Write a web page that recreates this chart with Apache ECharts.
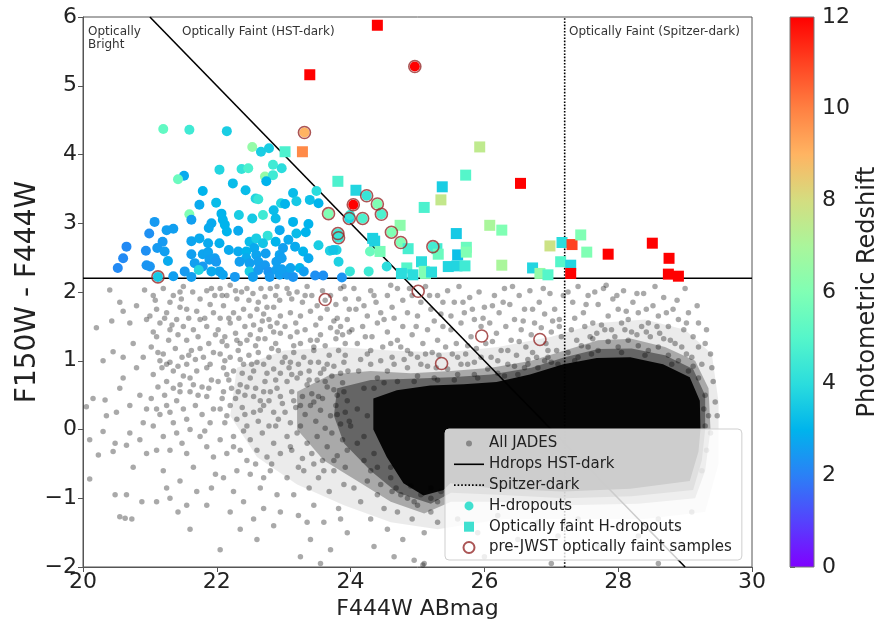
<!DOCTYPE html>
<html>
<head>
<meta charset="utf-8">
<title>F150W - F444W vs F444W</title>
<script src="https://cdn.jsdelivr.net/npm/echarts@6/dist/echarts.min.js"></script>
<style>
  html, body { margin: 0; padding: 0; background: #fff; }
  #chart { width: 881px; height: 627px; }
</style>
</head>
<body>
<div id="chart"></div>
<script>
// ---- All JADES catalogue: individual sources [F444W, F150W-F444W] ----
const allJades = [
  [20.05,0.33],[20.1,-0.15],[20.2,1.48],[20.4,2.03],[20.43,1.58],[20.3,1.0],[20.45,1.13],[20.35,0.2],[20.3,-0.03],[20.48,-0.2],
  [20.45,-0.32],[20.65,-0.23],[20.55,-1.27],[20.63,-1.29],[20.48,-0.95],[20.73,-1.3],[20.15,0.45],[20.33,0.43],[20.23,-0.37],[20.1,-0.72],
  [20.6,1.72],[20.55,1.85],[20.7,1.55],[20.75,1.25],[20.6,1.05],[20.8,0.9],[20.55,0.6],[20.7,0.35],[20.85,0.5],[20.9,0.1],
  [20.7,-0.05],[20.95,-0.35],[20.85,-0.15],[20.6,0.75],[20.9,1.05],[20.95,1.6],[20.92,2.03],[20.8,1.8],[20.5,0.25],[20.95,0.3],
  [20.75,-0.55],[20.88,-1.05],[20.65,-0.95],
  [21.05,1.95],[21.2,2.05],[21.3,1.85],[21.45,2.0],[21.5,2.08],[21.64,2.0],[21.75,1.9],[21.85,2.02],[21.92,2.05],[21.1,1.75],[21.35,1.95],
  [21.0,1.65],[21.15,1.55],[21.25,1.7],[21.4,1.6],[21.55,1.75],[21.65,1.45],[21.75,1.6],[21.85,1.5],[21.95,1.7],[21.3,1.45],[21.5,1.5],
  [21.05,1.42],[21.45,1.78],[21.9,1.82],
  [21.02,1.2],[21.1,1.35],[21.2,1.1],[21.28,1.3],[21.38,1.18],[21.48,1.05],[21.55,1.3],[21.62,1.15],[21.72,1.35],[21.8,1.05],[21.88,1.25],
  [21.95,1.12],[21.15,1.0],[21.42,1.38],[21.68,1.02],[21.98,1.38],
  [21.05,0.8],[21.18,0.9],[21.25,0.7],[21.35,0.85],[21.45,0.65],[21.55,0.95],[21.6,0.75],[21.7,0.85],[21.78,0.62],[21.85,0.9],[21.92,0.72],
  [21.3,0.98],[21.12,0.62],[21.5,0.78],
  [21.02,0.45],[21.1,0.3],[21.22,0.5],[21.3,0.25],[21.4,0.42],[21.5,0.3],[21.6,0.55],[21.68,0.35],[21.78,0.22],[21.85,0.48],[21.95,0.3],
  [21.45,0.55],[21.15,0.22],
  [21.05,0.05],[21.2,-0.1],[21.35,0.1],[21.48,-0.2],[21.6,0.0],[21.75,-0.1],[21.9,0.1],[21.3,-0.3],[21.55,-0.35],[21.85,-0.25],[21.95,-0.4],[21.1,-0.3],
  [21.2,-0.6],[21.45,-0.75],[21.3,-1.0],[21.55,-1.1],[21.42,-1.2],[21.7,-0.9],[21.85,-1.1],[21.6,-1.45],[21.1,-1.05],[21.98,-0.65],
  [21.08,1.88],[21.22,1.62],[21.33,1.52],[21.47,1.9],[21.58,1.62],[21.7,1.72],[21.82,1.62],[21.97,1.95],[21.12,1.12],[21.25,0.95],
  [21.42,0.92],[21.58,1.08],[21.75,1.18],[21.9,0.95],[21.35,0.6],[21.65,0.65],[21.88,0.6],[21.25,0.35],[21.55,0.15],[21.72,0.5],
  [21.4,-0.05],[21.82,-0.02],[21.65,-0.55],[21.25,-0.85],[21.92,-0.85],
  [22.05,2.05],[22.15,1.95],[22.2,2.1],[22.3,1.9],[22.37,2.0],[22.45,2.05],[22.54,1.98],[22.62,1.85],[22.72,1.93],[22.8,2.05],[22.88,1.95],
  [22.94,1.88],[22.1,1.8],[22.25,1.7],[22.4,1.75],[22.5,1.65],[22.6,1.75],[22.7,1.68],[22.85,1.78],[22.95,1.65],[22.05,1.62],[22.33,1.62],[22.78,1.6],
  [22.02,1.45],[22.12,1.35],[22.2,1.55],[22.28,1.4],[22.35,1.25],[22.42,1.5],[22.5,1.38],[22.58,1.22],[22.65,1.45],[22.72,1.32],[22.8,1.5],
  [22.88,1.25],[22.95,1.4],[22.15,1.22],[22.45,1.3],[22.68,1.58],[22.9,1.55],
  [22.05,1.1],[22.1,0.9],[22.2,1.05],[22.25,0.85],[22.32,1.15],[22.4,0.95],[22.48,1.08],[22.55,0.85],[22.62,1.12],[22.7,0.95],[22.78,1.05],
  [22.85,0.88],[22.92,1.15],[22.98,0.98],[22.15,0.8],[22.38,0.82],[22.6,0.98],[22.82,1.18],
  [22.02,0.7],[22.1,0.55],[22.18,0.72],[22.28,0.45],[22.35,0.65],[22.42,0.5],[22.5,0.75],[22.58,0.6],[22.65,0.42],[22.72,0.7],[22.8,0.55],
  [22.88,0.72],[22.95,0.48],[22.22,0.6],[22.45,0.62],[22.7,0.55],[22.9,0.6],
  [22.05,0.3],[22.12,0.1],[22.2,0.35],[22.3,0.15],[22.38,0.32],[22.45,0.05],[22.55,0.25],[22.62,0.12],[22.7,0.35],[22.78,0.05],[22.85,0.25],
  [22.92,0.15],[22.98,0.38],
  [22.05,-0.15],[22.15,-0.35],[22.25,-0.1],[22.35,-0.3],[22.45,-0.45],[22.5,-0.15],[22.6,-0.3],[22.68,-0.05],[22.75,-0.4],[22.85,-0.2],
  [22.95,-0.35],[22.4,-0.02],
  [22.1,-0.7],[22.25,-0.9],[22.2,-1.2],[22.4,-1.05],[22.5,-0.65],[22.55,-1.3],[22.65,-0.85],[22.7,-1.15],[22.8,-0.6],[22.85,-1.4],[22.9,-0.95],
  [22.95,-1.2],[22.35,-1.45],[22.05,-1.75],[22.6,-1.6],
  [22.08,1.95],[22.28,2.02],[22.48,1.88],[22.66,2.05],[22.9,2.08],[22.18,1.62],[22.55,1.52],[22.75,1.78],[22.08,1.28],[22.3,1.3],
  [22.62,1.32],[22.85,1.42],[22.12,1.0],[22.35,1.02],[22.52,0.95],[22.75,0.82],[22.95,0.82],[22.08,0.45],[22.32,0.55],[22.55,0.48],
  [22.78,0.42],[22.15,0.2],[22.42,0.22],[22.65,0.28],[22.88,0.05],[22.25,-0.25],[22.58,-0.5],[22.82,-0.5],[22.3,-0.6],[22.7,-0.7],
  [23.05,2.05],[23.12,1.9],[23.2,2.0],[23.28,1.85],[23.35,2.08],[23.42,1.95],[23.5,1.8],[23.58,2.02],[23.7,1.95],[23.78,1.82],[23.85,2.05],
  [23.92,1.9],[23.98,1.75],[23.1,1.7],[23.25,1.65],[23.4,1.72],[23.55,1.62],[23.65,1.75],[23.8,1.62],[23.95,1.6],
  [23.02,1.5],[23.1,1.35],[23.18,1.55],[23.25,1.25],[23.32,1.45],[23.4,1.3],[23.48,1.52],[23.55,1.38],[23.62,1.22],[23.7,1.48],[23.78,1.32],
  [23.85,1.5],[23.92,1.25],[23.98,1.42],[23.15,1.22],[23.45,1.2],[23.75,1.58],[23.88,1.38],
  [23.02,1.05],[23.08,0.9],[23.15,1.12],[23.22,0.95],[23.3,1.05],[23.38,0.85],[23.45,1.15],[23.52,0.98],[23.6,0.88],[23.68,1.08],[23.75,0.92],
  [23.82,1.15],[23.9,0.98],[23.96,0.85],[23.25,0.82],[23.55,0.82],[23.85,0.82],
  [23.05,0.7],[23.12,0.55],[23.2,0.75],[23.28,0.48],[23.35,0.65],[23.42,0.52],[23.5,0.72],[23.58,0.45],[23.65,0.62],[23.72,0.78],[23.8,0.5],
  [23.88,0.68],[23.95,0.42],[23.15,0.42],[23.45,0.4],[23.75,0.58],
  [23.02,0.25],[23.1,0.1],[23.18,0.32],[23.25,0.05],[23.32,0.22],[23.4,0.35],[23.48,0.12],[23.55,0.28],[23.62,0.02],[23.7,0.2],[23.78,0.35],
  [23.85,0.08],[23.92,0.25],[23.98,0.12],
  [23.05,-0.1],[23.12,-0.3],[23.2,-0.05],[23.28,-0.42],[23.35,-0.2],[23.42,-0.35],[23.5,-0.1],[23.58,-0.45],[23.65,-0.25],[23.72,-0.05],
  [23.8,-0.38],[23.88,-0.15],[23.95,-0.3],
  [23.05,-0.7],[23.15,-0.95],[23.22,-1.25],[23.3,-0.6],[23.38,-0.85],[23.45,-1.1],[23.52,-0.7],[23.6,-1.35],[23.68,-0.9],[23.75,-0.6],
  [23.82,-1.15],[23.9,-0.8],[23.95,-1.5],[23.4,-1.6],[23.7,-1.75],[23.25,-1.85],[23.55,-1.95],
  [23.08,1.98],[23.32,1.95],[23.62,1.88],[23.9,2.08],[23.2,1.42],[23.5,1.3],[23.8,1.42],[23.1,0.98],[23.4,0.98],[23.65,0.95],
  [23.92,1.08],[23.12,0.8],[23.38,0.72],[23.62,0.7],[23.9,0.55],[23.25,0.35],[23.52,0.48],[23.8,0.22],[23.1,-0.25],[23.45,-0.5],
  [23.75,-0.45],[23.22,-0.55],[23.6,-0.6],[23.92,-0.55],[23.35,-1.35],[23.85,-1.3],
  [24.05,2.05],[24.12,1.9],[24.2,1.8],[24.3,2.02],[24.38,1.85],[24.45,1.7],[24.55,1.95],[24.62,1.78],[24.7,2.05],[24.78,1.88],[24.85,1.7],
  [24.92,1.95],[25.05,1.85],[25.12,2.08],[25.2,1.75],[25.3,1.95],[24.25,1.65],[24.65,1.62],[25.0,1.65],[25.35,1.68],
  [24.02,1.45],[24.1,1.25],[24.18,1.5],[24.25,1.1],[24.32,1.35],[24.4,1.55],[24.48,1.2],[24.55,1.42],[24.62,1.05],[24.7,1.3],[24.78,1.5],
  [24.85,1.15],[24.92,1.38],[25.0,1.05],[25.08,1.25],[25.15,1.45],[25.22,1.12],[25.3,1.3],[25.38,1.5],[24.15,1.02],[24.45,1.0],[24.8,1.02],
  [24.08,1.75],[24.35,1.95],[24.6,2.1],[24.88,2.05],[25.18,1.95],[25.38,1.85],[24.22,1.35],[24.5,1.6],[24.75,1.2],[24.98,1.5],
  [25.25,1.58],[24.3,1.15],[24.6,1.25],[24.9,1.1],[25.12,1.1],[25.32,1.08],[24.12,0.85],[24.3,0.95],[24.65,0.95],[25.05,0.95],[25.28,0.9],
  [24.05,-0.85],[24.15,-1.05],[24.25,-0.75],[24.3,-1.3],[24.4,-0.95],[24.5,-1.15],[24.55,-1.45],[24.62,-0.9],[24.7,-1.2],[24.78,-1.6],
  [24.85,-1.0],[24.92,-1.3],[25.0,-1.1],[25.1,-1.5],[25.2,-1.2],[25.3,-1.35],[24.35,-1.7],[24.65,-1.85],[24.95,-1.9],[25.08,-1.97],
  [25.45,2.02],[25.55,1.85],[25.62,2.08],[25.7,1.7],[25.78,1.92],[25.85,1.6],[25.92,2.0],[26.0,1.78],[26.08,1.55],[26.15,1.95],[26.22,1.7],
  [26.3,2.05],[26.38,1.82],[26.45,1.6],[26.52,1.95],[26.6,1.75],[26.68,2.02],[26.75,1.55],[26.82,1.85],[26.9,1.68],[26.98,1.98],[27.05,1.75],
  [27.12,1.6],[25.5,1.45],[25.58,1.25],[25.65,1.55],[25.72,1.1],[25.8,1.35],[25.88,1.18],[25.95,1.5],[26.02,1.25],[26.1,1.05],[26.18,1.4],
  [26.25,1.15],[26.32,1.5],[26.4,1.3],[26.48,1.08],[26.55,1.45],[26.62,1.2],[26.7,1.38],[26.78,1.05],[26.85,1.48],[26.92,1.25],[27.0,1.42],
  [27.08,1.15],[27.15,1.35],[25.42,1.2],[25.6,1.05],[26.2,1.0],[26.65,0.95],
  [25.5,1.65],[25.68,1.85],[25.82,1.75],[25.98,1.62],[26.12,1.8],[26.28,1.85],[26.42,2.08],[26.58,1.58],[26.72,1.75],[26.88,2.05],
  [27.02,1.58],[27.18,1.95],[25.52,1.1],[25.75,1.22],[25.95,1.05],[26.12,1.28],[26.35,1.15],[26.52,1.28],[26.72,1.12],[26.95,1.15],
  [27.12,1.5],[25.65,0.95],[25.85,0.98],[26.45,0.92],[26.9,1.0],
  [27.25,2.0],[27.32,1.85],[27.4,2.08],[27.48,1.7],[27.55,1.95],[27.62,1.55],[27.7,1.82],[27.78,2.05],[27.85,1.65],[27.92,1.9],[28.0,1.75],
  [28.08,2.02],[28.15,1.6],[28.22,1.85],[28.3,1.7],[28.38,1.98],[28.45,1.55],[28.52,1.8],[28.6,1.65],[28.68,1.92],[28.75,1.5],[28.82,1.75],
  [28.9,1.6],[28.98,1.45],[29.05,1.7],[29.12,1.35],[29.2,1.55],[29.3,1.25],[29.38,1.1],[27.3,1.45],[27.38,1.3],[27.5,1.5],[27.58,1.35],
  [27.68,1.4],[27.75,1.52],[27.9,1.45],[28.05,1.55],[28.2,1.42],[28.35,1.5],[28.48,1.35],[28.62,1.4],[28.78,1.3],[28.95,1.2],[29.1,1.05],
  [29.25,0.95],[29.42,0.7],[29.45,0.4],[27.82,2.1],[28.55,2.08],[29.0,2.05],
  [27.35,1.62],[27.52,1.82],[27.65,2.0],[27.8,1.45],[27.98,1.95],[28.12,1.72],[28.28,1.98],[28.42,1.75],[28.58,1.5],[28.72,1.7],
  [28.88,1.88],[29.02,1.55],[29.18,1.8],[29.32,1.45],[27.45,1.22],[27.62,1.32],[27.95,1.35],[28.1,1.45],[28.28,1.38],[28.42,1.42],
  [28.68,1.32],[28.85,1.25],[29.02,1.1],[29.2,1.2],[29.4,0.9],[29.48,0.2],
  [25.6,-1.3],[25.9,-1.5],[26.2,-1.25],[26.5,-1.6],[26.8,-1.35],[27.1,-1.55],[27.4,-1.3],[27.7,-1.7],[28.0,-1.4],[28.3,-1.55],[28.6,-1.3],
  [28.9,-1.45],[29.1,-1.2],[26.0,-1.85],[27.0,-1.95],[28.6,-1.95],[25.1,-1.95],
  [24.4,0.75],[24.55,0.85],[24.7,0.7],[24.85,0.9],[25.0,0.78],[25.15,0.92],[25.3,0.72],[25.45,0.88],[25.6,0.8],[25.75,0.95],[25.9,0.75],
  [26.05,0.88],[26.2,0.82],[26.35,0.95],[26.5,0.8],[26.65,1.02],[26.8,0.9],[26.95,1.05],[27.1,0.95],[27.25,1.12],[27.4,1.05],[27.55,1.2],
  [27.7,1.15],[27.85,1.28],[28.0,1.2],[28.15,1.3],[28.3,1.22],[28.45,1.15],[28.6,1.2],[28.75,1.08],[28.9,1.0],[29.05,0.85],[29.2,0.75],
  [29.3,0.5],[29.35,0.2],[29.38,-0.05],[29.3,0.05],
  [24.2,0.6],[24.1,0.3],[24.0,0.05],[24.1,-0.2],[24.2,-0.45],[24.3,-0.6],[24.45,-0.8],[24.6,-0.7],[24.75,-0.95],[24.9,-0.82],[25.05,-0.95],
  [25.2,-0.85],[25.35,-0.9],
  [24.35,0.6],[24.5,0.68],[24.95,0.7],[25.25,0.75],[25.55,0.72],[25.85,0.8],[26.3,0.78],[26.6,0.9],[27.0,0.98],[27.35,1.0],[27.6,1.1],
  [28.05,1.12],[28.4,1.08],[28.8,0.95],[29.12,0.92],[29.28,0.3],[29.32,-0.3],[29.25,-0.6],[24.25,0.2],[24.2,-0.1],[24.35,-0.35],
  [24.4,-0.55],[24.6,-0.55],[24.68,-0.85],[24.95,-1.05],[25.2,-1.0],[25.3,-1.05]
];

// ---- Where the catalogue is too crowded to resolve single sources: density contours ----
const jadesSparse = [
  [22.3,0.9],[23.0,1.15],[23.8,1.2],[24.6,1.15],[25.4,1.12],[26.2,1.2],[27.0,1.35],[27.7,1.55],[28.4,1.6],[29.0,1.45],[29.4,1.1],
  [29.5,0.4],[29.5,-0.5],[29.3,-1.2],[28.4,-1.3],[27.3,-1.3],[26.3,-1.3],[25.3,-1.45],[24.6,-1.35],[23.9,-1.1],[23.2,-0.8],[22.6,-0.4],[22.2,0.2]
];
const jadesMedium = [
  [23.2,0.55],[23.7,0.8],[24.3,0.85],[24.9,0.82],[25.5,0.85],[26.1,0.9],[26.7,1.0],[27.2,1.15],[27.7,1.3],[28.2,1.32],[28.7,1.2],
  [29.15,1.0],[29.35,0.6],[29.38,0.0],[29.3,-0.6],[29.15,-1.0],[28.3,-1.08],[27.2,-1.1],[26.2,-1.05],[25.5,-1.05],[25.1,-1.22],
  [24.6,-1.05],[24.1,-0.75],[23.6,-0.45],[23.2,0.0]
];
const jadesCrowded = [
  [23.8,0.6],[24.3,0.72],[24.9,0.74],[25.5,0.76],[26.1,0.8],[26.7,0.9],[27.2,1.05],[27.7,1.17],[28.2,1.18],[28.7,1.08],[29.12,0.88],
  [29.3,0.5],[29.3,0.0],[29.25,-0.45],[29.12,-0.88],[28.2,-0.97],[27.2,-1.0],[26.2,-0.95],[25.5,-0.92],[25.2,-1.08],[24.7,-0.92],
  [24.3,-0.6],[23.9,-0.2],[23.75,0.2]
];
const jadesDense = [
  [24.34,0.45],[24.69,0.57],[25.19,0.64],[25.69,0.66],[26.18,0.69],[26.68,0.8],[27.18,0.95],[27.68,1.04],[28.18,1.05],[28.67,0.95],
  [29.07,0.76],[29.22,0.42],[29.23,0.0],[29.2,-0.32],[29.07,-0.75],[28.18,-0.86],[27.18,-0.9],[26.18,-0.86],[25.49,-0.78],[25.39,-0.88],
  [25.09,-0.96],[24.79,-0.78],[24.54,-0.4],[24.34,0.0]
];

// ---- H-dropouts [F444W, colour, photo-z] ----
const hDropouts = [
  [21.20,4.37,5.3],[21.59,4.36,4.5],[22.15,4.34,3.6],[22.53,4.11,6.5],[22.66,4.04,3.6],[22.78,4.09,3.6],
  [22.04,3.78,3.8],[22.37,3.79,4.2],[22.47,3.80,4.8],[21.51,3.69,2.8],[21.42,3.64,5.5],[22.72,3.68,6.5],[22.84,3.70,4.5],
  [22.74,3.61,3.0],[22.24,3.58,3.2],[22.43,3.48,3.2],[21.79,3.47,3.0],[21.74,3.27,2.8],[21.99,3.30,3.2],[22.58,3.36,3.8],
  [22.62,3.35,4.3],[22.85,3.19,3.2],[22.96,3.29,3.8],[22.07,3.14,3.0],[22.33,3.12,3.6],[22.53,3.07,3.5],[22.69,3.12,4.5],
  [22.88,3.07,3.2],[21.07,3.02,2.5],[21.59,3.13,6.0],[21.62,3.05,2.6],[21.92,3.00,2.8],[22.09,3.05,3.0],[22.12,2.98,3.0],
  [22.15,2.88,3.0],[21.88,2.93,2.8],[22.32,2.89,2.8],[21.25,2.90,2.6],[21.35,2.92,2.6],[20.99,2.85,2.3],[21.19,2.73,2.5],
  [20.65,2.66,2.2],[20.94,2.60,2.3],[21.11,2.64,2.5],[21.22,2.59,2.6],[21.27,2.45,2.8],[20.60,2.49,2.2],[20.52,2.35,2.2],
  [20.95,2.39,2.4],[21.00,2.37,2.4],[21.62,2.74,2.7],[21.74,2.78,2.8],[21.87,2.71,2.8],[22.04,2.71,2.9],[22.18,2.61,2.8],
  [21.62,2.55,2.6],[21.79,2.55,2.7],[21.87,2.58,2.7],[21.89,2.47,2.6],[21.97,2.49,2.6],[21.99,2.44,2.5],[21.67,2.42,2.6],
  [21.79,2.37,2.5],[21.73,2.32,3.8],[21.52,2.30,2.5],[21.62,2.22,2.6],[21.35,2.23,2.6],[21.12,2.22,3.5],[22.04,2.30,2.7],
  [22.09,2.25,2.7],[22.32,2.59,2.8],[22.44,2.59,3.0],[22.49,2.73,3.2],[22.59,2.78,3.6],[22.76,2.82,4.2],[22.88,2.73,3.0],
  [22.56,2.64,2.8],[22.69,2.71,3.4],[22.73,2.56,2.6],[22.59,2.54,2.7],[22.44,2.49,2.8],[22.34,2.44,2.6],[22.49,2.42,2.6],
  [22.62,2.44,2.6],[22.72,2.39,2.5],[22.89,2.44,2.6],[22.94,2.54,2.7],[22.49,2.30,3.6],[22.62,2.32,2.5],[22.77,2.30,2.4],
  [22.89,2.32,2.6],[22.54,2.22,2.6],[22.79,2.22,2.5],[22.94,2.25,2.6],[22.27,2.22,2.5],[21.92,2.30,2.8],
  [22.84,3.85,4.5],[22.97,3.80,4.0],[23.49,3.47,4.0],[23.14,3.44,3.2],[23.02,3.28,3.0],[23.19,3.32,3.5],[23.39,3.34,3.3],
  [23.52,3.29,3.0],[23.14,3.02,3.0],[23.37,2.99,3.0],[22.94,2.90,2.8],[23.19,2.85,3.2],[23.33,2.87,3.0],[23.07,2.76,2.8],
  [23.52,2.68,3.6],[23.17,2.66,2.8],[22.99,2.64,2.6],[23.29,2.59,3.0],[23.69,2.60,3.7],[23.79,2.61,3.7],[22.97,2.49,2.6],
  [23.37,2.49,2.8],[23.82,2.44,3.7],[23.24,2.35,3.0],[23.99,2.30,4.3],[24.27,2.30,4.5],[23.47,2.24,2.3],[23.59,2.24,2.3],
  [23.87,2.21,2.4],[24.54,2.37,4.0],[24.29,2.59,5.5],[23.30,2.30,2.6],[23.05,2.25,2.5],[23.14,2.22,2.4],[22.97,2.33,2.6],
  [23.10,2.35,2.7],[23.74,2.61,3.4],
  [23.31,4.32,9.0],[24.96,5.28,12],[24.04,3.27,12],[24.24,3.40,4.3],[24.40,3.28,6.0],[24.46,3.13,4.8],[23.67,3.14,6.0],
  [23.98,3.07,3.8],[23.99,3.12,4.3],[24.18,3.07,4.8],[23.81,2.85,4.5],[23.82,2.79,4.3],[24.61,2.87,6.0],[24.75,2.72,6.0],
  [25.23,2.66,4.6]
];

// ---- Optically faint H-dropouts [F444W, colour, photo-z] ----
const faintHDropouts = [
  [24.40,5.88,12],[23.39,5.16,12],[23.28,4.04,9.8],[23.02,4.04,4.8],[23.81,3.61,4.8],[24.08,3.48,3.8],[25.10,3.23,4.8],
  [25.37,3.53,3.6],[25.35,3.34,7.6],[25.72,3.70,5.0],[25.93,4.11,7.5],[26.54,3.58,12],[24.33,2.78,3.7],[24.36,2.74,3.7],
  [24.44,2.59,5.8],[24.74,2.97,6.3],[24.86,2.63,4.7],[24.84,2.35,5.0],[25.06,2.44,4.0],[25.29,2.63,4.6],[25.31,2.55,5.5],
  [25.58,2.85,3.5],[25.60,2.54,3.3],[25.46,2.37,3.8],[25.59,2.38,3.8],[25.71,2.38,4.5],[25.10,2.30,6.0],[24.76,2.27,4.0],
  [24.93,2.25,4.0],[25.12,2.27,6.0],[25.21,2.29,4.0],[26.08,2.97,7.0],[26.26,2.90,6.0],[25.73,2.65,5.5],[25.73,2.58,6.0],
  [26.26,2.39,7.0],[26.72,2.35,3.8],[26.83,2.27,6.5],[26.95,2.25,5.0],[26.98,2.67,7.8],[27.16,2.72,4.0],[27.31,2.69,11],
  [27.44,2.83,6.0],[27.53,2.58,6.0],[27.85,2.55,12],[28.51,2.71,12],[28.76,2.49,12],[27.14,2.44,5.0],[27.29,2.39,3.8],
  [27.29,2.27,12],[28.75,2.26,12],[28.90,2.23,12]
];

// ---- pre-JWST optically faint samples [F444W, colour] ----
const preJwst = [
  [21.12,2.22],[23.31,4.32],[24.96,5.28],[24.04,3.27],[24.24,3.40],[24.40,3.28],[24.46,3.13],[23.67,3.14],[23.98,3.07],
  [24.18,3.07],[23.81,2.85],[23.82,2.79],[24.61,2.87],[24.75,2.72],[25.23,2.66],[23.62,1.89],[25.01,2.01],[25.96,1.36],
  [26.83,1.31],[25.36,0.96]
];

// ---- Selection boundaries ----
const hstDarkCut = [[21, 6], [29, -2]];
const spitzerDarkCut = [[27.2, -2], [27.2, 6]];
const colourCut = [[20, 2.2], [30, 2.2]];

// ---- Colour scale (photometric redshift) ----
const zMin = 0, zMax = 12;
const rainbow = ['#8000ff','#5542fd','#2b80f6','#00b4ec','#2bdddd','#55f6ca','#80ffb4',
                 '#aaf69b','#d4dd80','#ffb462','#ff8042','#ff4221','#ff0000'];

const FONT = 'DejaVu Sans';
const minus = v => String(v).replace('-', '\u2212');

// legend glyphs, drawn in a 30 x 11 box
const ICON_LINE = 'path://M0,4.7H30V6.3H0Z';
const ICON_DOTS = 'path://M0,4.7H1.6V6.3H0Z M3.6,4.7H5.2V6.3H3.6Z M7.2,4.7H8.8V6.3H7.2Z M10.8,4.7H12.4V6.3H10.8Z ' +
                  'M14.4,4.7H16V6.3H14.4Z M18,4.7H19.6V6.3H18Z M21.6,4.7H23.2V6.3H21.6Z M25.2,4.7H26.8V6.3H25.2Z M28.4,4.7H30V6.3H28.4Z';
const ICON_DOT = 'path://M0,0M30,11M15,2.5A3,3,0,1,1,15,8.5A3,3,0,1,1,15,2.5Z';
const ICON_DISC = 'path://M0,0M30,11M15,1A4.5,4.5,0,1,1,15,10A4.5,4.5,0,1,1,15,1Z';
const ICON_SQUARE = 'path://M0,0M30,11M10,0.5H20V10.5H10Z';

function contour(name, verts, fill) {
  return {
    type: 'custom', name: name, coordinateSystem: 'cartesian2d', silent: true, clip: true, z: 1,
    data: verts,
    renderItem: function (params, api) {
      if (params.dataIndex !== 0) return null;
      return {
        type: 'polygon',
        shape: { points: verts.map(v => api.coord(v)) },
        style: { fill: fill }
      };
    }
  };
}

const chart = echarts.init(document.getElementById('chart'), null, { renderer: 'canvas' });

const option = {
  animation: false,
  backgroundColor: '#fff',
  textStyle: { fontFamily: FONT },
  grid: [
    { left: 83, right: 129, top: 17, bottom: 60, show: true, borderColor: '#555', borderWidth: 1 },
    { left: 790, width: 32, top: 17, height: 550 }
  ],
  xAxis: [
    {
      gridIndex: 0, type: 'value', min: 20, max: 30, interval: 2,
      name: 'F444W ABmag', nameLocation: 'middle', nameGap: 31, nameMoveOverlap: false,
      nameTextStyle: { fontSize: 22, color: '#222', fontFamily: FONT },
      axisLine: { onZero: false, lineStyle: { color: '#555' } },
      axisTick: { length: 5, lineStyle: { color: '#555' } },
      axisLabel: { fontSize: 22, color: '#222', margin: 4, fontFamily: FONT },
      splitLine: { show: false }
    },
    { gridIndex: 1, type: 'value', min: 0, max: 1, show: false }
  ],
  yAxis: [
    {
      gridIndex: 0, type: 'value', min: -2, max: 6, interval: 1,
      name: 'F150W - F444W', nameLocation: 'middle', nameGap: 41, nameMoveOverlap: false,
      nameTextStyle: { fontSize: 28, color: '#222', fontFamily: FONT },
      axisLine: { onZero: false, lineStyle: { color: '#555' } },
      axisTick: { length: 5, lineStyle: { color: '#555' } },
      axisLabel: { fontSize: 22, color: '#222', margin: 6, formatter: minus, fontFamily: FONT },
      splitLine: { show: false }
    },
    {
      gridIndex: 1, type: 'value', min: zMin, max: zMax, interval: 2, position: 'right',
      name: 'Photometric Redshift', nameLocation: 'middle', nameGap: 42, nameRotate: 90, nameMoveOverlap: false,
      nameTextStyle: { fontSize: 24, color: '#222', fontFamily: FONT },
      axisLine: { show: false },
      axisTick: { show: true, length: 5, lineStyle: { color: '#555' } },
      axisLabel: { fontSize: 22, color: '#222', margin: 8, fontFamily: FONT },
      splitLine: { show: false }
    }
  ],
  visualMap: {
    type: 'continuous', show: false, min: zMin, max: zMax, dimension: 2,
    seriesIndex: [8, 9], inRange: { color: rainbow }
  },
  legend: {
    orient: 'vertical', left: 445, top: 429, padding: [7, 10, 5, 9],
    itemWidth: 30, itemHeight: 11, itemGap: 5.8,
    backgroundColor: 'rgba(255,255,255,0.8)', borderColor: '#cfcfcf', borderWidth: 1, borderRadius: 4,
    textStyle: { fontSize: 15, color: '#222', fontFamily: FONT },
    data: [
      { name: 'All JADES', icon: ICON_DOT },
      { name: 'Hdrops HST-dark', icon: ICON_LINE, itemStyle: { color: '#000' } },
      { name: 'Spitzer-dark', icon: ICON_DOTS, itemStyle: { color: '#000' } },
      { name: 'H-dropouts', icon: ICON_DISC, itemStyle: { color: '#40e0d0' } },
      { name: 'Optically faint H-dropouts', icon: ICON_SQUARE, itemStyle: { color: '#40e0d0' } },
      { name: 'pre-JWST optically faint samples', icon: 'circle' }
    ]
  },
  graphic: [
    { type: 'text', left: 88, top: 25, z: 10, style: { text: 'Optically\nBright', font: '12px "DejaVu Sans"', fill: '#333', lineHeight: 13 } },
    { type: 'text', left: 182, top: 26, z: 10, style: { text: 'Optically Faint (HST-dark)', font: '12px "DejaVu Sans"', fill: '#333' } },
    { type: 'text', left: 569, top: 26, z: 10, style: { text: 'Optically Faint (Spitzer-dark)', font: '12px "DejaVu Sans"', fill: '#333' } }
  ],
  series: [
    contour('jades-sparse', jadesSparse, 'rgba(0,0,0,0.08)'),
    contour('jades-medium', jadesMedium, 'rgba(0,0,0,0.28)'),
    contour('jades-crowded', jadesCrowded, 'rgba(0,0,0,0.4)'),
    contour('jades-dense', jadesDense, 'rgba(0,0,0,0.94)'),
    {
      type: 'scatter', name: 'All JADES', data: allJades, symbol: 'circle', symbolSize: 5.5, z: 2,
      itemStyle: { color: 'rgba(0,0,0,0.42)' }, silent: true
    },
    {
      type: 'line', name: 'colour cut', data: colourCut, symbol: 'none', z: 3, silent: true,
      itemStyle: { color: '#000' }, lineStyle: { color: '#000', width: 1.6 }
    },
    {
      type: 'line', name: 'Hdrops HST-dark', data: hstDarkCut, symbol: 'none', z: 3, silent: true,
      itemStyle: { color: '#000' }, lineStyle: { color: '#000', width: 1.6 }
    },
    {
      type: 'line', name: 'Spitzer-dark', data: spitzerDarkCut, symbol: 'none', z: 3, silent: true,
      itemStyle: { color: '#000' }, lineStyle: { color: '#000', width: 1.6, type: [1.6, 1.6] }
    },
    {
      type: 'scatter', name: 'H-dropouts', data: hDropouts, symbol: 'circle', symbolSize: 10, z: 4,
      itemStyle: { color: '#40e0d0', opacity: 1 }
    },
    {
      type: 'scatter', name: 'Optically faint H-dropouts', data: faintHDropouts, symbol: 'rect', symbolSize: 11, z: 5,
      itemStyle: { color: '#40e0d0', opacity: 1 }
    },
    {
      type: 'scatter', name: 'pre-JWST optically faint samples', data: preJwst, symbol: 'circle', symbolSize: 12, z: 6,
      itemStyle: { color: 'rgba(0,0,0,0)', borderColor: '#962a2a', borderWidth: 1.6 }
    },
    {
      type: 'custom', name: 'colorbar', xAxisIndex: 1, yAxisIndex: 1, silent: true, data: [[0, zMin]],
      renderItem: function (params, api) {
        const top = api.coord([0, zMax]);
        const bottom = api.coord([1, zMin]);
        const stops = rainbow.map((c, i) => ({ offset: i / (rainbow.length - 1), color: c }));
        return {
          type: 'rect',
          shape: { x: top[0], y: top[1], width: bottom[0] - top[0], height: bottom[1] - top[1] },
          style: {
            fill: new echarts.graphic.LinearGradient(0, 1, 0, 0, stops),
            stroke: '#777', lineWidth: 1
          }
        };
      }
    }
  ]
};

chart.setOption(option);
</script>
</body>
</html>
